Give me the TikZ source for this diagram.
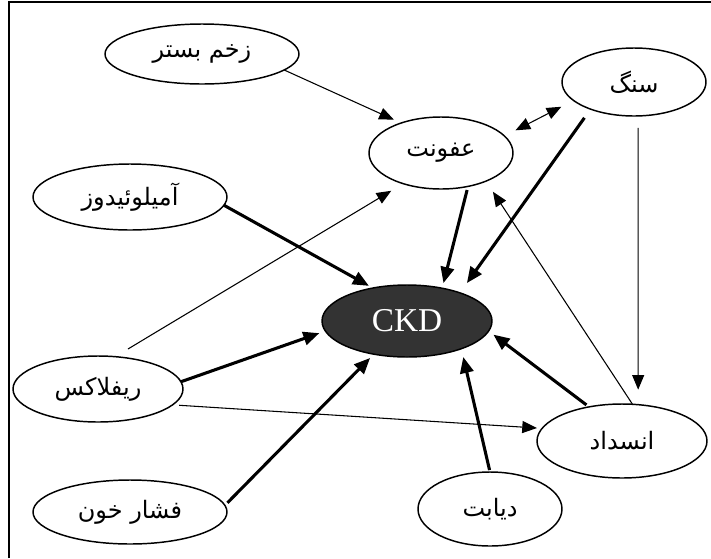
\documentclass[tikz,border=0pt]{standalone}
\usepackage{fontspec}
\usetikzlibrary{shapes.geometric,arrows.meta}
\newfontfamily\fafont[Script=Arabic]{DejaVu Sans}
\newfontfamily\ckdfont{Liberation Serif}
\TeXXeTstate=1
\newcommand\fatxt[1]{\makebox[0pt]{\fafont\fontsize{18}{21}\selectfont\beginR #1\endR}}
\definecolor{ckdgray}{RGB}{51,51,51}
\tikzset{
  ell/.style={ellipse, draw, line width=1.1pt, inner sep=0pt, outer sep=0pt, fill=white},
  thickarrow/.style={line width=2.3pt, -{Triangle[length=12pt,width=10pt]}},
  thinarrow/.style={line width=0.8pt, -{Triangle[length=11pt,width=9pt]}},
  boththin/.style={line width=0.8pt, {Triangle[length=11pt,width=9pt]}-{Triangle[length=11pt,width=9pt]}},
}
\begin{document}
\begin{tikzpicture}[x=0.75pt,y=-0.75pt]
\useasboundingbox (0,0) rectangle (711,558);
\draw[line width=1.6pt] (9,558) -- (9,2) -- (711,2);

\node[ell, minimum width=145.5pt, minimum height=45pt] (zakhm) at (202,54) {\fatxt{زخم بستر}};
\node[ell, minimum width=108pt, minimum height=51pt] (sang) at (634,82) {\fatxt{سنگ}};
\node[ell, minimum width=108pt, minimum height=54pt] (ofunat) at (441,153) {\fatxt{عفونت}};
\node[ell, minimum width=145.5pt, minimum height=49.5pt] (amylo) at (130,197) {\fatxt{آمیلوئیدوز}};
\node[ell, fill=ckdgray, text=white, minimum width=127.5pt, minimum height=54pt, font=\ckdfont\fontsize{25}{28}\selectfont] (ckd) at (407,321) {CKD};
\node[ell, minimum width=127.5pt, minimum height=49.5pt] (reflux) at (98,389) {\fatxt{ریفلاکس}};
\node[ell, minimum width=127.5pt, minimum height=55.5pt] (ensedad) at (622,441) {\fatxt{انسداد}};
\node[ell, minimum width=145.5pt, minimum height=48pt] (feshar) at (130,512) {\fatxt{فشار خون}};
\node[ell, minimum width=108pt, minimum height=55.5pt] (diabet) at (490,509) {\fatxt{دیابت}};

% thin connectors
\draw[thinarrow, shorten >=6pt] (zakhm.-11.9) -- (ofunat.143.9);
\draw[boththin, shorten <=9.3pt, shorten >=10.3pt] (ofunat.15.6) -- (sang.197.7);
\draw[thinarrow, shorten <=9pt, shorten >=11.25pt] (sang.-83.3) -- (ensedad.66);
\draw[thinarrow, shorten >=9.5pt] (ensedad.74.2) -- (ofunat.-32.9);
\draw[thinarrow, shorten <=11.2pt, shorten >=10.4pt] (reflux.62.1) -- (ofunat.219.8);
\draw[thinarrow, shorten <=4.9pt, shorten >=3.9pt] (reflux.-12.7) -- (ensedad.171);

% thick connectors
\draw[thickarrow, shorten <=8pt, shorten >=9pt] (sang.212.5) -- (ckd.28);
\draw[thickarrow, shorten <=2.8pt, shorten >=4pt] (ofunat.-51.2) -- (ckd.43.5);
\draw[thickarrow, shorten >=3.4pt] (amylo.-5.1) -- (ckd.136.9);
\draw[thickarrow, shorten >=4.8pt] (reflux.5.5) -- (ckd.187.7);
\draw[thickarrow, shorten <=2.7pt, shorten >=4pt] (feshar.4.4) -- (ckd.225);
\draw[thickarrow, shorten <=1.5pt, shorten >=6.4pt] (diabet.90) -- (ckd.-27.2);
\draw[thickarrow, shorten <=2.5pt, shorten >=4.5pt] (ensedad.134.5) -- (ckd.-7.3);
\end{tikzpicture}
\end{document}
